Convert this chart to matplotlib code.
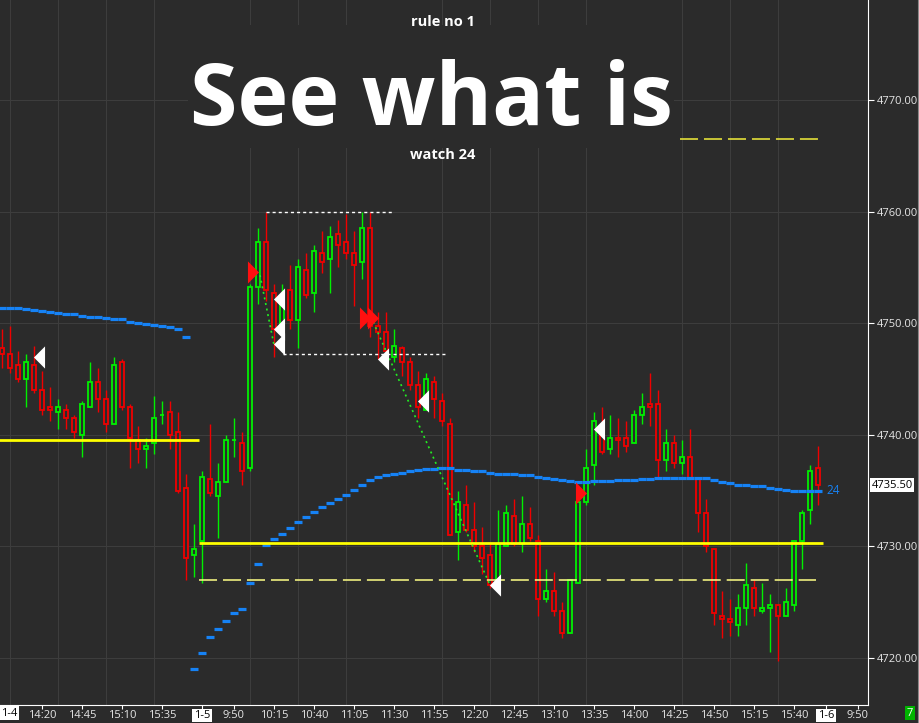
import numpy as np
import matplotlib.pyplot as plt
import matplotlib.transforms as mtransforms
from matplotlib.path import Path
from matplotlib.patches import Rectangle
from matplotlib.lines import Line2D

plt.rcParams['font.family'] = ['Open Sans', 'DejaVu Sans']

# 5 min bars, 1-4 13:55 ... 1-5 15:55
opens = [4747.75, 4747.25, 4746.25, 4745.0, 4746.25, 4744.0, 4742.5, 4742.0, 4742.25, 4741.5,
         4740.0, 4742.5, 4744.75, 4743.25, 4741.0, 4746.5, 4742.5, 4739.5, 4738.75, 4739.25,
         4741.75, 4742.0, 4740.25, 4735.25, 4729.25, 4730.5, 4736.0, 4734.5, 4735.75, 4739.5,
         4739.25, 4737.0, 4753.25, 4757.25, 4752.75, 4749.75, 4753.0, 4750.25, 4754.75, 4752.75,
         4756.25, 4755.75, 4758.0, 4757.25, 4756.25, 4755.5, 4758.5, 4749.75, 4749.25, 4747.0,
         4747.75, 4746.5, 4744.5, 4742.25, 4744.75, 4743.0, 4741.0, 4731.25, 4733.75, 4731.5,
         4730.0, 4729.25, 4727.0, 4730.0, 4732.75, 4730.25, 4732.0, 4730.5, 4725.25, 4726.0,
         4724.25, 4722.25, 4726.75, 4734.0, 4737.25, 4740.5, 4738.75, 4739.75, 4739.75, 4739.25,
         4741.75, 4742.75, 4742.75, 4737.75, 4739.25, 4737.5, 4738.0, 4736.0, 4733.0, 4729.75,
         4723.75, 4723.5, 4723.0, 4724.5, 4726.25, 4724.25, 4724.5, 4724.75, 4723.75, 4724.75,
         4730.5, 4733.25, 4737.0]
highs = [4749.5, 4749.75, 4747.5, 4747.25, 4748.0, 4745.75, 4744.25, 4743.25, 4742.75, 4741.75,
         4743.0, 4746.5, 4746.0, 4744.0, 4747.0, 4746.75, 4742.75, 4740.75, 4739.75, 4743.5,
         4743.0, 4743.0, 4742.0, 4736.5, 4732.0, 4736.75, 4741.0, 4737.5, 4740.0, 4741.5,
         4740.25, 4753.5, 4758.5, 4760.0, 4753.5, 4753.5, 4755.25, 4755.75, 4756.25, 4757.0,
         4758.25, 4758.75, 4759.25, 4759.75, 4758.25, 4760.0, 4760.0, 4751.0, 4751.0, 4749.5,
         4748.0, 4747.0, 4745.75, 4745.5, 4745.25, 4743.75, 4741.5, 4735.0, 4735.5, 4734.0,
         4731.75, 4730.25, 4733.25, 4733.75, 4734.25, 4734.5, 4733.5, 4731.0, 4728.0, 4727.75,
         4725.0, 4727.0, 4734.0, 4738.75, 4742.0, 4742.5, 4741.75, 4741.5, 4741.25, 4742.25,
         4743.75, 4745.5, 4744.0, 4740.5, 4740.0, 4739.5, 4740.5, 4736.25, 4734.25, 4729.75,
         4726.0, 4725.25, 4725.75, 4728.5, 4727.0, 4726.75, 4725.75, 4724.75, 4726.25, 4730.5,
         4733.25, 4737.25, 4739.0]
lows = [4746.0, 4745.5, 4744.75, 4742.5, 4743.75, 4741.75, 4741.25, 4740.5, 4740.5, 4739.75,
        4738.0, 4742.5, 4742.0, 4740.25, 4741.0, 4742.25, 4737.0, 4737.5, 4737.0, 4738.25,
        4741.0, 4738.75, 4734.75, 4727.0, 4727.25, 4726.75, 4734.5, 4730.75, 4735.75, 4738.0,
        4735.5, 4736.75, 4751.75, 4752.0, 4747.0, 4749.5, 4749.5, 4747.75, 4752.25, 4751.0,
        4754.5, 4752.75, 4755.0, 4755.75, 4751.5, 4754.0, 4748.75, 4746.75, 4746.75, 4746.5,
        4745.25, 4744.0, 4741.5, 4742.25, 4741.5, 4740.75, 4731.0, 4728.75, 4731.25, 4729.5,
        4727.5, 4726.25, 4727.0, 4730.0, 4730.0, 4729.5, 4730.5, 4723.75, 4725.0, 4723.75,
        4721.75, 4722.25, 4726.75, 4733.75, 4735.5, 4738.25, 4738.25, 4738.0, 4738.5, 4739.25,
        4741.0, 4740.75, 4736.25, 4736.75, 4737.0, 4736.5, 4736.0, 4731.25, 4729.5, 4723.0,
        4721.75, 4722.0, 4722.0, 4723.0, 4723.75, 4724.0, 4720.5, 4719.75, 4723.75, 4724.25,
        4728.0, 4732.0, 4733.75]
closes = [4747.25, 4746.0, 4745.0, 4746.5, 4744.0, 4742.25, 4742.25, 4742.5, 4741.5, 4740.25,
          4742.75, 4744.75, 4743.25, 4741.0, 4746.25, 4742.5, 4739.75, 4738.75, 4739.0, 4741.5,
          4741.75, 4740.0, 4735.0, 4729.0, 4729.75, 4736.25, 4734.75, 4735.75, 4739.5, 4739.5,
          4736.75, 4753.25, 4757.25, 4753.0, 4749.5, 4752.25, 4750.25, 4755.0, 4752.5, 4756.5,
          4755.5, 4757.75, 4757.0, 4756.25, 4755.25, 4758.5, 4749.75, 4749.25, 4747.5, 4748.0,
          4746.5, 4744.5, 4742.5, 4745.0, 4743.25, 4741.25, 4731.0, 4734.0, 4731.5, 4730.0,
          4729.0, 4726.5, 4730.25, 4733.0, 4730.25, 4732.0, 4730.75, 4725.25, 4726.0, 4724.25,
          4722.25, 4727.0, 4734.0, 4737.0, 4741.25, 4738.5, 4739.75, 4739.5, 4739.0, 4741.75,
          4742.5, 4742.5, 4737.75, 4739.25, 4737.5, 4738.0, 4736.0, 4733.0, 4730.0, 4724.0,
          4723.5, 4723.25, 4724.5, 4726.5, 4724.5, 4724.5, 4724.75, 4723.75, 4725.0, 4730.5,
          4733.0, 4736.75, 4735.5]
ma24 = [4751.39, 4751.39, 4751.39, 4751.30, 4751.21, 4751.10, 4750.98, 4750.89, 4750.80, 4750.80,
        4750.67, 4750.58, 4750.58, 4750.49, 4750.40, 4750.40, 4750.13, 4750.04, 4749.96, 4749.87,
        4749.78, 4749.69, 4749.51, 4748.79, 4719.04, 4720.47, 4721.91, 4722.63, 4723.34, 4724.06,
        4724.42, 4726.75, 4728.45, 4730.15, 4730.69, 4731.14, 4731.68, 4732.21, 4732.66, 4733.11,
        4733.56, 4733.92, 4734.27, 4734.63, 4735.08, 4735.53, 4735.98, 4736.25, 4736.42, 4736.51,
        4736.60, 4736.78, 4736.87, 4736.96, 4736.96, 4737.05, 4737.05, 4736.87, 4736.87, 4736.78,
        4736.78, 4736.60, 4736.51, 4736.51, 4736.51, 4736.42, 4736.42, 4736.25, 4736.16, 4736.07,
        4735.98, 4735.89, 4735.80, 4735.80, 4735.89, 4735.89, 4735.89, 4735.98, 4735.98, 4735.98,
        4736.07, 4736.07, 4736.16, 4736.16, 4736.16, 4736.16, 4736.16, 4736.16, 4736.16, 4735.98,
        4735.80, 4735.71, 4735.53, 4735.53, 4735.44, 4735.44, 4735.26, 4735.17, 4735.08, 4734.99,
        4734.99, 4734.99, 4734.99]

xtick_pos = [5, 10, 15, 20, 25, 29, 34, 39, 44, 49, 54, 59, 64, 69, 74, 79, 84, 89, 94, 99, 103, 107]
xtick_lab = ["14:20", "14:45", "15:10", "15:35", "1-5", "9:50", "10:15", "10:40", "11:05", "11:30",
             "11:55", "12:20", "12:45", "13:10", "13:35", "14:00", "14:25", "14:50", "15:15", "15:40",
             "1-6", "9:50"]
ytick_pos = [4720, 4730, 4740, 4750, 4760, 4770]

# levels (price, from bar, to bar)
yellow_levels = [(4739.5, -0.5, 24.6), (4730.3, 24.6, 102.6)]
dashed_level = (4727.0, 24.6, 101.8)
title_dash = (4766.5, 84.75, 102.0)
white_dotted = [(4760.0, 33.0, 49.0), (4747.25, 35.1, 55.6)]
green_dotted = [([32.25, 34.0], [4754.3, 4748.05]), ([46.4, 61.0], [4750.1, 4726.54])]

# markers (bar, price)
white_tri_x = [4.6, 34.65, 34.65, 34.65, 47.67, 52.6, 61.6, 74.6]
white_tri_y = [4747.0, 4752.2, 4749.5, 4748.15, 4746.8, 4743.0, 4726.5, 4740.5]
red_tri_x = [31.4, 45.4, 46.4, 72.4]
red_tri_y = [4754.6, 4750.5, 4750.5, 4734.75]

last_price = 4735.50

BG = '#2b2b2b'
GRID = '#3d3d3d'
GREEN = '#00f000'
RED = '#f00000'
BLUE = '#1682f5'
TXT = '#e6e6e6'

W, H = 920, 723
fig = plt.figure(figsize=(W / 100, H / 100), dpi=100, facecolor=BG)
ax = fig.add_axes([0, 18 / H, 868 / W, 705 / H], facecolor=BG)
ax.set_xlim(-0.25, 108.25)
ax.set_ylim(4715.79, 4778.96)

x = np.arange(len(opens))
o = np.array(opens)
h = np.array(highs)
l = np.array(lows)
c = np.array(closes)
col = np.where(c >= o, GREEN, RED)

ax.vlines(x, l, h, colors=col, lw=1.0, zorder=3)
ax.bar(x, np.abs(c - o), bottom=np.minimum(o, c), width=0.55, color=BG,
       edgecolor=col, linewidth=1.3, zorder=4)

ax.hlines(ma24, x - 0.5, x + 0.5, colors=BLUE, lw=2.3, zorder=5)
ax.text(103.1, ma24[-1], "24", color=BLUE, fontsize=8.5, va='center', ha='left', zorder=6)

for lev, a, b in yellow_levels:
    ax.hlines(lev, a, b, colors='#ffff00', lw=2.0, zorder=5)
ax.hlines(dashed_level[0], dashed_level[1], dashed_level[2], colors='#ffff86', lw=1.1,
          linestyles=(0, (11.8, 3.9)), zorder=5)
ax.hlines(title_dash[0], title_dash[1], title_dash[2], colors='#f2ee3a', lw=1.1,
          linestyles=(0, (11.8, 3.9)), zorder=5)
for lev, a, b in white_dotted:
    ax.hlines(lev, a, b, colors='white', lw=1.0, linestyles=(0, (2.2, 2.2)), zorder=5)
for xs, ys in green_dotted:
    ax.plot(xs, ys, color='#22ee22', lw=1.2, ls=(0, (1.2, 2.2)), zorder=6)

left_tri = Path([(-0.5, 0), (0.5, 1), (0.5, -1), (-0.5, 0)])
right_tri = Path([(0.5, 0), (-0.5, 1), (-0.5, -1), (0.5, 0)])
ax.plot(white_tri_x, white_tri_y, ls='none', marker=left_tri, ms=16, mfc='white', mew=0, zorder=7)
ax.plot(red_tri_x, red_tri_y, ls='none', marker=right_tri, ms=16, mfc='#ff1010', mew=0, zorder=7)

# grid
ax.set_axisbelow(True)
ax.set_xticks(np.arange(1, 108, 6), minor=True)
ax.grid(which='minor', axis='x', color=GRID, lw=0.8)
ax.grid(which='major', axis='y', color=GRID, lw=0.8)
ax.add_patch(Rectangle((188 / W, (H - 148) / H), (674 - 188) / W, 123 / H,
                       transform=fig.transFigure, facecolor=BG, edgecolor='none', zorder=0.8))

# axes
for s in ['top', 'left']:
    ax.spines[s].set_visible(False)
ax.spines['right'].set_color('white')
ax.spines['bottom'].set_color('white')
ax.yaxis.tick_right()
ax.set_yticks(ytick_pos)
ax.set_yticklabels(["%.2f" % v for v in ytick_pos])
ax.tick_params(axis='y', colors='white', labelcolor=TXT, length=4, labelsize=8, pad=2)
ax.set_xticks(xtick_pos)
ax.set_xticklabels(xtick_lab)
ax.tick_params(axis='x', which='major', colors='white', labelcolor=TXT, length=3, labelsize=8, pad=0.5)
ax.tick_params(axis='x', which='minor', length=0)
for t in ax.get_xticklabels():
    if '-' in t.get_text():
        t.set_color('black')
        t.set_bbox(dict(facecolor='white', edgecolor='none', pad=1.0))

fig.text(1 / W, 10 / H, "1-4", color='black', fontsize=8, ha='left', va='center',
         bbox=dict(facecolor='white', edgecolor='none', pad=1.0))

trans = mtransforms.blended_transform_factory(ax.transAxes, ax.transData)
ax.text(1.004, last_price, "%.2f" % last_price, transform=trans, color='black', fontsize=8,
        va='center', ha='left', clip_on=False,
        bbox=dict(facecolor='white', edgecolor='none', pad=1.2))

fig.text(910 / W, 10 / H, "7", color='white', fontsize=8, ha='center', va='center',
         bbox=dict(facecolor='#00b400', edgecolor='none', pad=1.2))
fig.add_artist(Line2D([918.5 / W, 918.5 / W], [0, 1], color='#8a8a8a', lw=0.8,
                      transform=fig.transFigure))

# title overlay
fig.text(443 / W, (H - 22) / H, "rule no 1", color='white', fontsize=10.5, fontweight='bold',
         ha='center', va='center')
fig.text(431 / W, (H - 125) / H, "See what is", color='white', fontsize=62, fontweight='bold',
         ha='center', va='baseline')
fig.text(443 / W, (H - 155) / H, "watch 24", color='white', fontsize=10.5, fontweight='bold',
         ha='center', va='center')

fig.savefig('out.png', dpi=100, facecolor=BG)
